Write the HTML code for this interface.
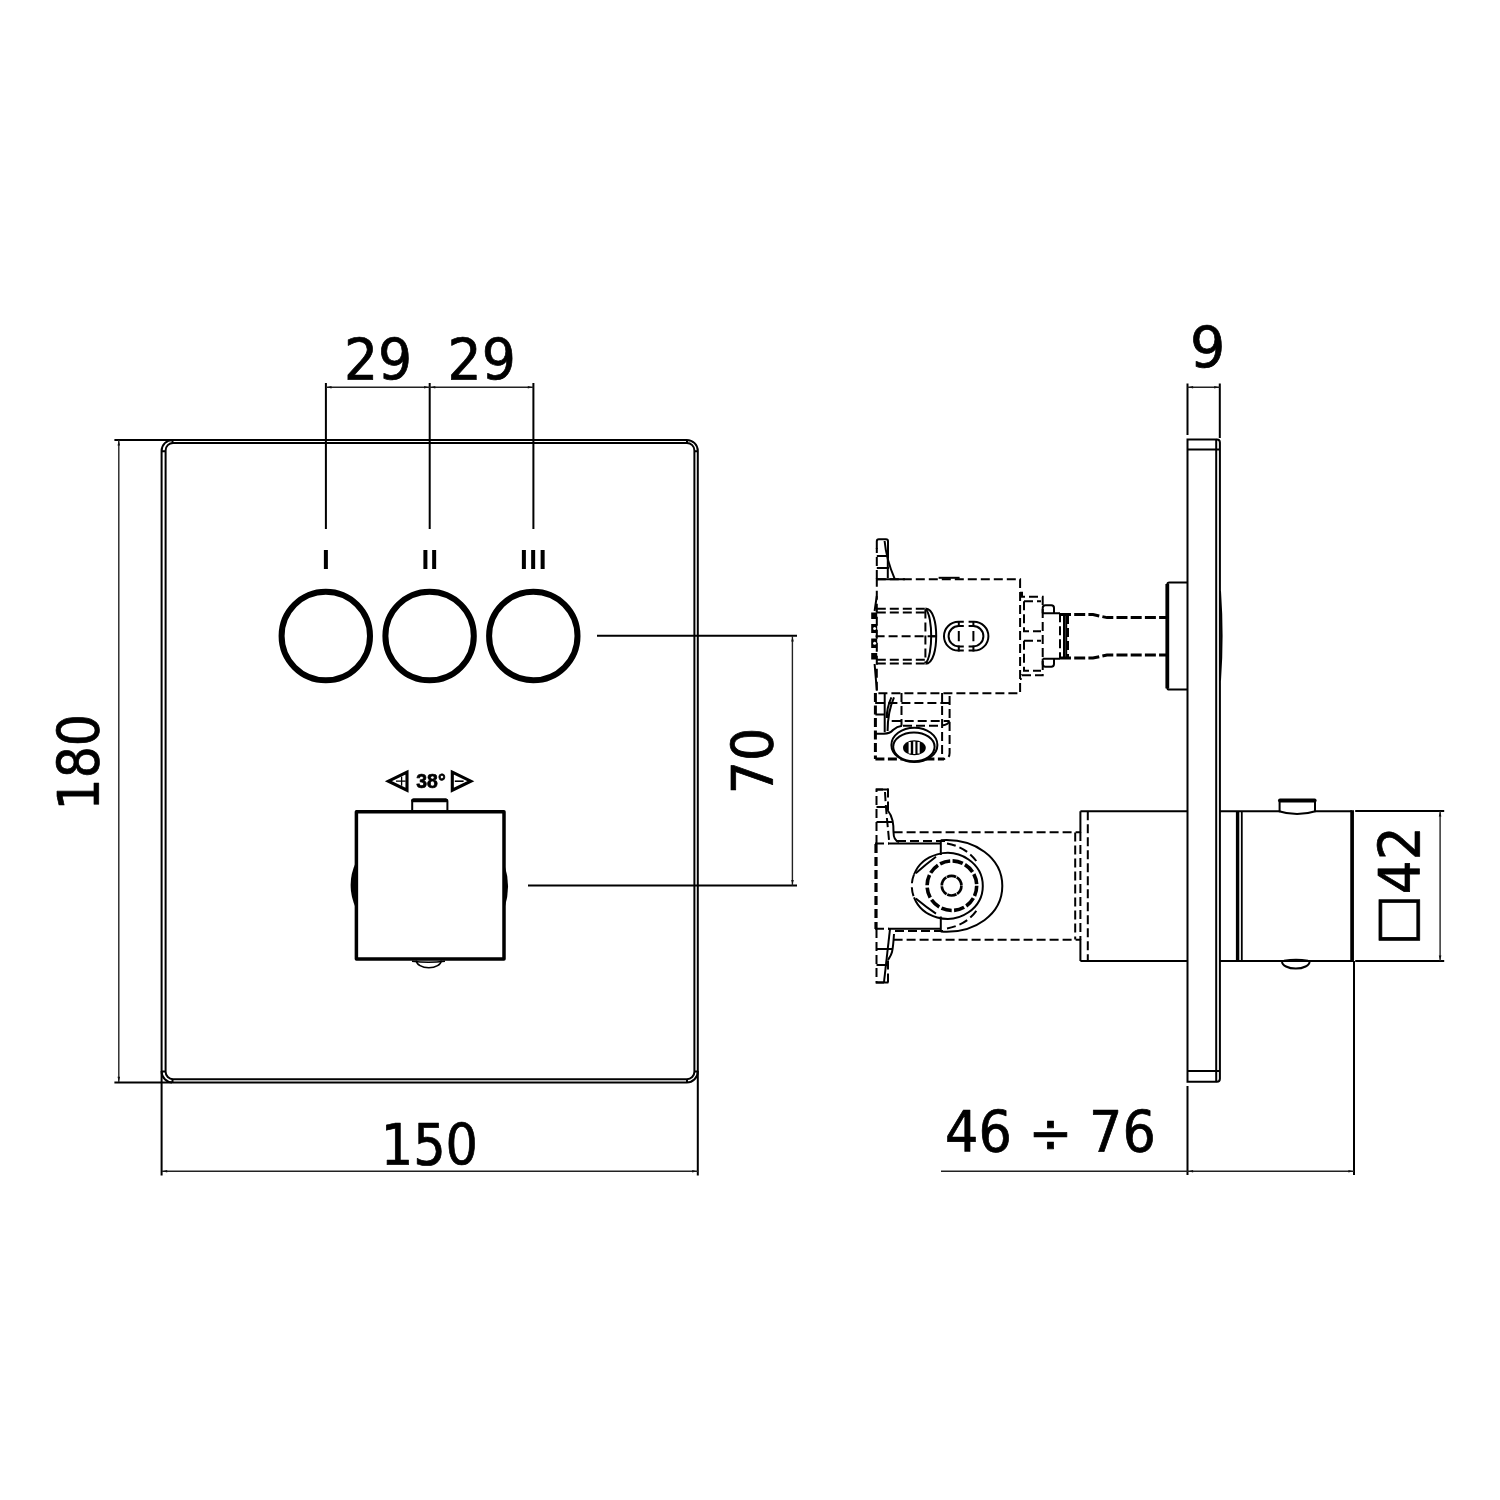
<!DOCTYPE html>
<html lang="en">
<head>
<meta charset="utf-8">
<title>Thermostatic mixer – technical drawing</title>
<style>
html,body{margin:0;padding:0;background:#fff;}
body{width:1500px;height:1500px;overflow:hidden;}
svg{display:block;will-change:transform;}
.dim{font-family:"DejaVu Sans Condensed","DejaVu Sans","Liberation Sans",sans-serif;font-stretch:condensed;font-size:57.6px;fill:#000;stroke:#000;stroke-width:0.7px;stroke-linejoin:round;}
.rom{font-family:"Liberation Sans","DejaVu Sans",sans-serif;font-weight:bold;font-size:28px;fill:#000;}
.deg{font-family:"Liberation Sans","DejaVu Sans",sans-serif;font-weight:bold;font-size:19.4px;fill:#000;stroke:#000;stroke-width:0.7px;stroke-linejoin:round;}
.l{stroke:#000;stroke-width:2;fill:none;}
.t{stroke:#222;stroke-width:1.4;fill:none;}
.d{stroke:#000;stroke-width:2;fill:none;stroke-dasharray:9 4;}
.k{stroke:#000;stroke-width:3.5;fill:none;}
</style>
</head>
<body>
<svg width="1500" height="1500" viewBox="0 0 1500 1500">
<rect x="0" y="0" width="1500" height="1500" fill="#fff"/>

<!-- ================= FRONT VIEW ================= -->
<g id="front">
  <!-- plate (double outline) -->
  <rect class="l" x="161.6" y="439.9" width="536.2" height="642.5" rx="11" ry="11"/>
  <rect class="l" x="165.6" y="442.9" width="528.8" height="636.3" rx="7.5" ry="7.5"/>
  <!-- corner ticks -->
  <path class="l" stroke-width="1.5" d="M172.5 439.9V443 M161.6 451.2H165.6 M687 439.9V443 M694.4 451.2H697.8 M172.5 1079.2V1082.4 M161.6 1071.4H165.6 M687 1079.2V1082.4 M694.4 1071.4H697.8"/>

  <!-- extension + dimension lines : 180 -->
  <path class="l" d="M114.4 439.9H172 M114.4 1082.4H172"/>
  <path class="t" d="M118.8 440V1082"/>
  <!-- 150 -->
  <path class="l" d="M161.6 1071V1175.6 M697.8 1071V1175.6"/>
  <path class="t" d="M162 1171.2H698"/>
  <!-- 29 / 29 -->
  <path class="l" stroke-width="1.8" d="M325.9 383V529 M429.7 383V529 M533.4 383V529"/>
  <path class="t" d="M326 387.2H533.4"/>
  <!-- 70 -->
  <path class="l" d="M597 635.8H797 M528 885.6H797"/>
  <path class="t" d="M792.4 636V885.6"/>

  <!-- buttons -->
  <circle cx="325.8" cy="636" r="44.2" stroke="#000" stroke-width="6" fill="none"/>
  <circle cx="429.6" cy="636" r="44.2" stroke="#000" stroke-width="6" fill="none"/>
  <circle cx="533.3" cy="636" r="44.2" stroke="#000" stroke-width="6" fill="none"/>

  <!-- thermostatic square handle -->
  <rect class="k" x="356.4" y="811.7" width="147.6" height="147.4" stroke-linejoin="round"/>
  <!-- top stop knob -->
  <path d="M412.2 811V801.4Q412.2 799.6 414 799.6H445.6Q447.4 799.6 447.4 801.4V811" stroke="#000" stroke-width="2" fill="none"/>
  <path d="M413.1 800.4H445.8" stroke="#000" stroke-width="3.8" stroke-linecap="round"/>
  <!-- bottom bump -->
  <path d="M416.4 960.4A12.4 7.4 0 0 0 441.2 960.4" stroke="#000" stroke-width="1.6" fill="none"/>
  <path d="M412 961.3Q428.6 963.2 445 961.3" stroke="#000" stroke-width="1.4" fill="none"/>
  <!-- side bumps -->
  <path d="M356 862Q345.2 885 356 908.4Z" fill="#000"/>
  <path d="M504.5 865Q511.6 886.5 504.5 908.4Z" fill="#000"/>

  <!-- arrows -->
  <path d="M407 772.2L388.4 781.2L407 790.2Z" stroke="#000" stroke-width="3.1" fill="none" stroke-linejoin="miter"/>
  <path d="M396 781.2H405.6 M401.6 776.6V785.8" stroke="#000" stroke-width="1.3" fill="none"/>
  <path d="M452.3 772.2L470.8 781.2L452.3 790.2Z" stroke="#000" stroke-width="3.1" fill="none" stroke-linejoin="miter"/>
  <path d="M454.8 781.2H463.6" stroke="#000" stroke-width="1.6" fill="none"/>
</g>

<!-- ================= SIDE VIEW ================= -->
<g id="side">
  <!-- wall plate -->
  <path class="l" d="M1216.2 1081.8H1187.5V439.6H1216.2"/>
  <path class="l" d="M1216.2 439.6V1081.8"/>
  <path class="l" stroke-width="1.5" d="M1216 439.6H1217Q1219.9 439.6 1219.9 442.6V1078.8Q1219.9 1081.8 1217 1081.8H1216"/>
  <path class="l" stroke-width="1.6" d="M1187.5 449.5H1219.8 M1187.5 1071H1219.8"/>
  <path d="M1220 591Q1223.2 636 1220 680.5" stroke="#000" stroke-width="2" fill="none"/>
  <!-- 9 -->
  <path class="l" stroke-width="1.8" d="M1187.5 383.5V435 M1219.8 383.5V438"/>
  <path class="t" d="M1187.5 387.2H1219.8"/>
  <!-- 46 / 76 -->
  <path class="l" stroke-width="1.8" d="M1187.5 1086V1175 M1354 961V1175"/>
  <path class="t" d="M941 1171.3H1354"/>
  <!-- 42 -->
  <path class="l" d="M1355.2 811H1444.2 M1355.2 961.1H1444.2"/>
  <path class="t" d="M1440.1 811V961"/>

  <!-- handle -->
  <path d="M1220 811.2H1280 M1314.6 811.2H1352 M1220 961H1353" class="l"/>
  <path d="M1237.6 811V961" stroke="#000" stroke-width="3.4"/>
  <path d="M1241.8 811V961" stroke="#000" stroke-width="1.8"/>
  <path d="M1352.1 810.2V962" stroke="#000" stroke-width="3.7"/>
  <path d="M1279.6 811V802Q1279.6 800 1281.6 800H1313Q1315 800 1315 802V811" stroke="#000" stroke-width="2" fill="none"/>
  <path d="M1280 800.6H1314.6" stroke="#000" stroke-width="4" stroke-linecap="round"/>
  <path d="M1279 811.2Q1297 817 1315.4 811.2" stroke="#000" stroke-width="2" fill="none"/>
  <path d="M1282 961.4A13.8 7.2 0 0 0 1309.6 961.4" stroke="#000" stroke-width="2" fill="none"/>
  <path d="M1284 960.6Q1296 958.4 1308 960.6" stroke="#000" stroke-width="1.6" fill="none"/>

  <!-- body behind plate (lower) -->
  <path class="l" d="M1080.4 811.2H1187.5 M1080.4 961H1187.5 M1080.4 811.2V832.4 M1080.4 939.5V961"/>
  <path class="d" stroke-width="1.8" stroke-dasharray="7 3" d="M1080.4 832V940 M1087.8 811.2V961 M1075.2 832.4V939.5"/>
  <path class="d" d="M893.6 832.2H1080 M893.6 939.8H1080"/>

  <!-- lower valve body -->
  <path d="M876 844V929" stroke="#000" stroke-width="3.2" stroke-dasharray="9 4" fill="none"/>
  <path class="l" stroke-width="1.5" d="M888 843.5H941 M888 928.7H941"/>
  <path class="d" stroke-dasharray="8 3" d="M875 843.5H889 M875 928.7H889"/>
  <path class="l" d="M940.8 840.3V855 M940.8 916.5V931.6"/>
  <path class="d" stroke-dasharray="8 3" d="M897 841H948 M895 931H947"/>
  <path class="l" d="M940.7 840.3C975 838 1002.3 858 1002.3 886C1002.3 914 975 934 940.7 931.6"/>
  <!-- projected bore (ellipse, left part dashed) -->
  <path class="l" d="M914 874.5A35.5 32.9 0 1 1 914 897.3"/>
  <path class="d" stroke-dasharray="6 3" d="M914 874.5A35.5 32.9 0 0 0 914 897.3"/>
  <path class="d" stroke-dasharray="9 4" d="M947 843.4C960 846 970 852 977 862 M947 928.4C960 926 970 920 977 910"/>
  <path class="l" stroke-width="1.3" d="M915.8 873.3Q926.6 863.8 936 856.8 M915.8 898.6Q926.6 907.6 936 913.6"/>
  <circle cx="951.9" cy="885.7" r="24.8" stroke="#000" stroke-width="3.6" stroke-dasharray="10.5 2.48" fill="none"/>
  <circle cx="951.6" cy="885.7" r="9.8" stroke="#000" stroke-width="2.7" stroke-dasharray="9.5 0.76" fill="none"/>

  <!-- lower brackets -->
  <path class="d" stroke-dasharray="8 3.5" d="M876.5 844V789.5H888V810 M876.5 929V982.5H888V960"/>
  <path class="l" d="M876.5 807H887.5 M876.5 822H892 M876.5 949H892 M876.5 965H887.5 M876 789.5H888.4 M876 982.6H888.4"/>
  <path class="l" d="M887.5 810C893 817 893.5 824 893.5 832C893.5 838 895 841 899 842"/>
  <path class="d" stroke-dasharray="8 3" d="M885 792C886 812 888 828 889 840"/>
  <path class="l" d="M894 934C893.5 942 893 948 892 952C891 956 889 958 888 960"/>
  <path class="l" d="M890 929L884 982"/>

  <!-- ===== upper valve ===== -->
  <rect class="d" x="876.8" y="579.2" width="143.3" height="114"/>
  <path class="l" stroke-width="3.2" d="M938.6 577.8H959.6"/>
  <!-- cartridge inside -->
  <path class="d" d="M876.8 608.8H925.4 M876.8 612.4H925.4 M876.8 659.8H925.4 M876.8 663.4H925.4 M875.6 636.2H935"/>
  <path class="d" d="M925.4 609.4V663"/>
  <path class="l" d="M925.4 608.4C933.6 608.4 936.2 624 936.2 636.1C936.2 648 933.6 663.8 925.4 663.8 M925.4 609C929.6 612 931.2 626 931.2 636.1C931.2 646 929.6 660 925.4 663.2 M930.8 636.2H936"/>
  <path d="M871.2 612.4H877.2V619H871.2Z M871.2 624H877.2V633H871.2Z M871.2 638.4H877.2V648H871.2Z M871.2 653H877.2V659.6H871.2Z" fill="#000"/>
  <circle cx="874.6" cy="628.6" r="1.5" fill="#fff"/><circle cx="874.6" cy="643.2" r="1.5" fill="#fff"/>
  <path class="l" stroke-width="2.6" d="M876.8 596L874.6 611 M874.6 664L876.8 690"/>
  <!-- oval window -->
  <path class="l" d="M963.8 621.8H958.4A14.4 14.4 0 0 0 958.4 650.6H963.8 M968.6 621.8H974A14.4 14.4 0 0 1 974 650.6H968.6"/>
  <path class="l" d="M963.8 626H958.8A10.2 10.2 0 0 0 958.8 646.4H963.8 M968.6 626H973.2A10.2 10.2 0 0 1 973.2 646.4H968.6"/>
  <path class="l" d="M958.8 621V627 M958.8 645.4V651.4 M973.4 621V627 M973.4 645.4V651.4 M958.8 631V641.2 M973.4 631V641.2"/>

  <!-- upper bracket -->
  <path class="d" stroke-dasharray="8 3.5" d="M876.8 579V548 M888 549V561"/>
  <path class="l" d="M876.8 549V541.3Q876.8 539.3 878.8 539.3H886Q888 539.3 888 541.3V549 M876.8 579.2H905"/>
  <path class="l" d="M876.8 556H887.6 M876.8 568H889"/>
  <path class="l" d="M884.6 541C886 556 890 568 894.6 578.6"/>
  <path class="l" d="M887.8 556V578"/>

  <!-- connector block -->
  <path class="d" stroke-dasharray="7 3" d="M1020 592.7H1022V596.7H1042.7V675.3H1022V679H1020"/>
  <path class="d" stroke-dasharray="7 3" d="M1024 601.3H1041 M1024 601.3V631.3H1041 M1024 640.7H1041 M1024 640.7V670.7H1041"/>
  <path class="l" d="M1042.7 613.3V608Q1042.7 605.3 1045.4 605.3H1051.3Q1054 605.3 1054 608V613.3H1060 M1042.7 658.7V664Q1042.7 666.7 1045.4 666.7H1051.3Q1054 666.7 1054 664V658.7H1060 M1042.7 613.3H1054 M1042.7 658.7H1054"/>
  <path class="d" stroke-dasharray="7 3" d="M1060 613.3V658.7 M1068 615V657.3"/>
  <path class="l" stroke-width="1.2" stroke="#222" d="M1064 614.7V657.3 M1066.2 614.7V657.3"/>
  <!-- pipe -->
  <path d="M1060 614.6H1093L1107 617.6H1166 M1060 658H1093L1107 655H1166" stroke="#000" stroke-width="3" stroke-dasharray="11 3.2" fill="none"/>
  <!-- flange -->
  <path class="l" d="M1187.5 582.6H1169.5Q1167.3 582.6 1167.3 584.8V687.4Q1167.3 689.6 1169.5 689.6H1187.5"/>
  <path d="M1167.3 584V688.4" stroke="#000" stroke-width="3.8"/>

  <!-- lower outlet of upper valve -->
  <path d="M875.4 693V759" stroke="#000" stroke-width="3" stroke-dasharray="9 3.5" fill="none"/>
  <path d="M875.4 758.9H944" stroke="#000" stroke-width="3" stroke-dasharray="9 3.5" fill="none"/>
  <path class="d" stroke-dasharray="8 3.5" d="M949.6 696V753Q949.6 758.6 944 758.9"/>
  <path class="d" stroke-dasharray="8 3.5" d="M942.1 693V757.5 M875.4 702.9H949.6 M891.7 721H949.6 M903 725.7H941Q949 725 949.6 720 M901.5 693V725.7"/>
  <path class="l" d="M884.7 694V732.3 M875.4 702.9H884.7 M875.4 714.5H884.7"/>
  <path class="l" stroke-width="1.3" d="M894 697.3Q887.6 712 887.6 731 M891.4 697.3Q886.6 708 886.8 718"/>
  <path class="l" d="M875.4 733.7H884Q890 733.7 893 730Q897 726.4 902 725.7"/>
  <ellipse cx="914.4" cy="744.9" rx="23" ry="17.2" stroke="#000" stroke-width="2" fill="#fff"/>
  <ellipse cx="913.9" cy="746.8" rx="20.7" ry="14.4" stroke="#000" stroke-width="2" fill="#fff"/>
  <ellipse cx="914.4" cy="747.7" rx="11.4" ry="7.5" fill="#000"/>
  <path d="M909.7 742V753.4 M914.3 741.4V754 M918.6 742V753.4" stroke="#fff" stroke-width="2.2"/>
</g>

<!-- dimension arrow heads -->
<path fill="#111" d="M118.8 440.9L117.5 445.5H120.1Z M118.8 1081.4L117.5 1076.8000000000002H120.1Z M162.6 1171.3L167.2 1170.0V1172.6Z M696.8 1171.3L692.1999999999999 1170.0V1172.6Z M326.9 387.2L331.5 385.9V388.5Z M428.7 387.2L424.09999999999997 385.9V388.5Z M430.7 387.2L435.3 385.9V388.5Z M532.4 387.2L527.8 385.9V388.5Z M792.5 636.8L791.2 641.4H793.8Z M792.5 884.6L791.2 880.0H793.8Z M1188.5 387.2L1193.1 385.9V388.5Z M1218.8 387.2L1214.2 385.9V388.5Z M1188.5 1171.3L1193.1 1170.0V1172.6Z M1353 1171.3L1348.4 1170.0V1172.6Z M1440.1 812L1438.8 816.6H1441.3999999999999Z M1440.1 960L1438.8 955.4H1441.3999999999999Z"/>

<!-- ================= TEXT ================= -->
<g id="labels">
  <text class="dim" textLength="65.93" lengthAdjust="spacingAndGlyphs" transform="translate(378 380) scale(1.035 1)" text-anchor="middle">29</text>
  <text class="dim" textLength="65.93" lengthAdjust="spacingAndGlyphs" transform="translate(481.7 380) scale(1.035 1)" text-anchor="middle">29</text>
  <text class="dim" textLength="98.87" lengthAdjust="spacingAndGlyphs" transform="translate(429.4 1165) scale(0.984 1)" text-anchor="middle">150</text>
  <text class="dim" textLength="98.88" lengthAdjust="spacingAndGlyphs" transform="translate(99 762.2) rotate(-90) scale(0.975 1)" text-anchor="middle">180</text>
  <text class="dim" textLength="65.92" lengthAdjust="spacingAndGlyphs" transform="translate(773 761) rotate(-90) scale(1.01 1)" text-anchor="middle">70</text>
  <text class="dim" textLength="32.97" lengthAdjust="spacingAndGlyphs" transform="translate(1207.7 367.6) scale(1.07 1)" text-anchor="middle">9</text>
  <text class="dim" textLength="208.15" lengthAdjust="spacingAndGlyphs" transform="translate(1050.4 1151.6) scale(1.012 1)" text-anchor="middle" xml:space="preserve">46 ÷ 76</text>
  <text class="dim" textLength="65.93" lengthAdjust="spacingAndGlyphs" transform="translate(1419.8 894.3) rotate(-90) scale(1.03 1)" text-anchor="start">42</text>
  <text class="dim" transform="translate(1413 945.2) rotate(-90)" text-anchor="start" style="font-family:'DejaVu Sans',sans-serif;font-stretch:normal;font-size:53.2px">□</text>
  <text class="rom" x="326" y="569" text-anchor="middle">I</text>
  <text class="rom" x="430.2" y="569" text-anchor="middle" letter-spacing="0.9">II</text>
  <text class="rom" x="534" y="569" text-anchor="middle" letter-spacing="1.6">III</text>
  <text class="deg" x="431" y="788" text-anchor="middle">38°</text>
</g>
</svg>
</body>
</html>
